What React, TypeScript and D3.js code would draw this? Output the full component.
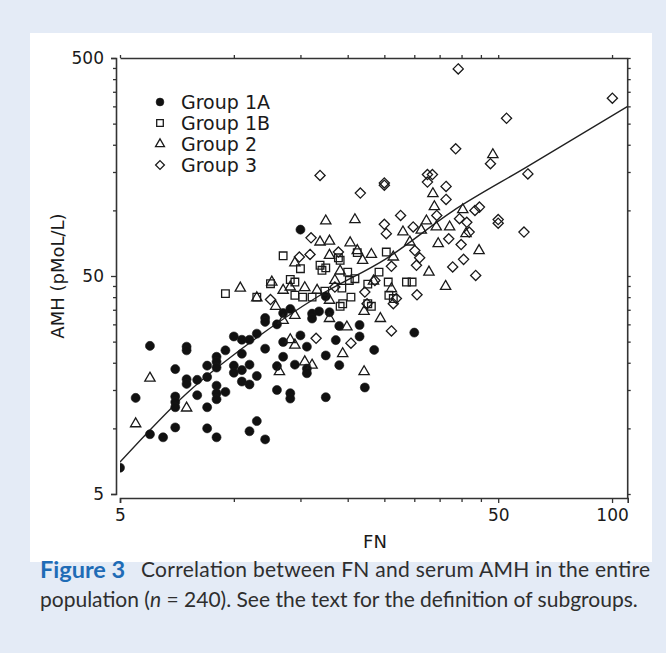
import React, { useEffect, useRef } from 'react';
import * as d3 from 'd3';

// group labels for the legend
const groupNames = ['Group 1A', 'Group 1B', 'Group 2', 'Group 3'];

// Group 1A (filled circles)
const fn1A = [5.0, 5.5, 6.0, 6.0, 6.5, 7.0, 7.0, 7.0, 7.0, 7.0, 7.5, 7.5, 7.5, 7.5, 8.0, 8.0, 8.5, 8.5, 8.5, 8.5,
  9.0, 9.0, 9.0, 9.0, 9.0, 9.0, 9.0, 9.5, 9.5, 10.0, 10.0, 10.0, 10.5, 10.5, 10.5, 10.5, 11.0, 11.0, 11.0, 11.0,
  11.5, 11.5, 11.5, 12.1, 12.1, 12.1, 12.1, 13.0, 13.0, 13.0, 13.5, 13.5, 13.5, 14.1, 14.1, 14.1, 14.5, 15.0, 15.0, 15.6,
  15.6, 15.6, 16.1, 16.1, 16.8, 17.5, 17.5, 17.5, 17.9, 18.6, 19.0, 19.0, 21.5, 21.5, 22.2, 23.5, 30.0];
const amh1A = [6.6, 13.8, 23.9, 9.4, 9.1, 18.7, 14.0, 13.2, 12.5, 10.1, 23.7, 22.8, 16.8, 16.0, 16.7, 14.2, 19.4, 17.2, 12.5, 10.0,
  21.3, 20.2, 19.0, 15.7, 14.5, 13.6, 9.1, 22.8, 14.7, 26.4, 19.4, 18.0, 25.5, 22.0, 18.5, 16.4, 25.5, 19.6, 15.9, 9.7,
  27.2, 17.4, 10.8, 32.1, 30.8, 23.2, 8.9, 30.0, 19.3, 15.0, 33.8, 24.9, 21.3, 35.3, 14.5, 13.7, 19.6, 81.6, 26.7, 23.7,
  18.8, 17.9, 33.6, 31.9, 34.4, 40.3, 21.6, 13.9, 34.1, 25.4, 29.5, 19.5, 29.8, 26.4, 15.4, 22.9, 27.5];

// Group 1B (open squares)
const fn1B = [9.5, 11.5, 12.5, 13.5, 14.1, 14.5, 14.5, 15.0, 15.2, 16.1, 16.9, 17.1, 17.5, 18.9, 19.1, 19.1, 19.4, 20.0,
  20.2, 20.4, 20.9, 22.6, 22.6, 23.1, 24.2, 25.3, 25.6, 25.7, 26.4, 28.6, 29.6, 17.4, 19.3, 21.2];
const amh1B = [41.5, 40.0, 46.1, 61.9, 48.2, 46.9, 40.8, 54.0, 40.0, 40.0, 56.0, 53.1, 54.5, 60.6, 59.0, 36.3, 37.3, 52.1,
  47.7, 40.0, 48.6, 45.9, 37.3, 36.3, 52.1, 64.4, 46.9, 40.8, 39.4, 46.9, 46.9, 42.6, 44.0, 64.0];

// Group 2 (open triangles)
const fn2 = [5.5, 6.0, 7.5, 10.4, 11.5, 12.6, 12.9, 13.2, 13.5, 13.5, 14.1, 14.1, 14.5, 14.5, 14.5, 15.4, 15.4, 16.1, 16.6,
  16.9, 17.5, 17.9, 17.9, 17.9, 17.9, 18.5, 19.1, 19.4, 19.9, 20.3, 20.9, 21.2, 21.9, 22.1, 22.1, 23.1, 23.4, 24.4, 26.1,
  26.4, 28.0, 29.2, 31.3, 32.3, 32.8, 33.6, 33.9, 34.3, 34.7, 36.3, 37.2, 40.3, 41.1, 44.5, 48.4];
const amh2 = [10.5, 17.0, 12.4, 44.0, 39.7, 46.9, 36.3, 18.2, 43.0, 31.3, 44.5, 25.5, 57.4, 33.0, 24.1, 44.2, 20.2, 19.5, 43.0,
  71.6, 89.4, 72.3, 62.2, 38.7, 31.9, 47.7, 52.7, 22.0, 29.2, 71.0, 90.6, 65.4, 59.0, 34.4, 18.2, 62.8, 47.4, 31.9, 43.7,
  61.1, 79.6, 71.6, 81.2, 89.4, 52.1, 119.2, 104.0, 83.9, 70.3, 44.8, 83.9, 100.7, 78.2, 65.4, 180.0];

// Group 3 (open diamonds)
const fn3 = [12.5, 14.9, 15.9, 16.0, 16.5, 16.9, 18.5, 18.9, 20.4, 21.6, 22.2, 22.5, 23.6, 25.0, 25.0, 25.0, 25.3, 26.1,
  26.1, 26.4, 26.9, 27.6, 29.8, 30.1, 30.4, 30.5, 31.0, 32.5, 33.5, 32.5, 34.4, 36.4, 36.4, 37.0, 37.9, 38.6, 39.2, 39.5,
  39.9, 40.5, 41.3, 41.9, 43.4, 43.6, 44.6, 47.7, 50.0, 50.0, 52.6, 58.5, 59.9, 100.2];
const amh3 = [39.0, 61.1, 62.8, 74.8, 25.9, 144.6, 44.5, 64.4, 24.6, 120.0, 42.2, 37.3, 47.7, 86.3, 133.6, 130.4, 78.2, 55.4,
  28.0, 37.3, 39.4, 94.8, 83.9, 65.4, 56.0, 41.0, 60.6, 146.0, 146.0, 134.8, 94.8, 128.8, 112.3, 74.1, 55.0, 191.7, 445.6, 91.6,
  69.7, 59.6, 88.2, 79.5, 99.9, 50.3, 103.5, 163.7, 90.7, 87.3, 264.6, 79.5, 147.0, 327.0];

// regression line
const fitFN = [5, 7.5, 11.25, 16.9, 25.3, 37.9, 59.4, 110];
const fitAMH = [7.0, 14.45, 25.35, 40.8, 60.1, 99.3, 157.9, 300];

// axis ticks
const xTicks = [5, 10, 15, 20, 25, 30, 35, 40, 45, 50, 100];
const yTicks = [5, 10, 15, 20, 25, 30, 35, 40, 45, 50, 100, 150, 200, 250, 300, 350, 400, 450, 500];
const xLabels = [5, 50, 100];
const yLabels = [5, 50, 500];

const W = 666;
const H = 653;

const App = () => {
  const ref = useRef<SVGSVGElement>(null);

  useEffect(() => {
    document.body.style.margin = '0';
    const svg = d3.select(ref.current);
    svg.selectAll('*').remove();

    const font = 'DejaVu Sans, sans-serif';
    const axisColor = '#333';

    // BACKGROUND
    svg.append('rect').attr('width', W).attr('height', H).attr('fill', '#e4ebf6');
    svg.append('rect')
      .attr('x', 30).attr('y', 33)
      .attr('width', 622).attr('height', 529)
      .attr('fill', '#ffffff');

    // SCALES
    const x = d3.scaleLog().domain([5, 110]).range([120, 627.7]);
    const y = d3.scaleLog().domain([5, 500]).range([494, 58]);

    const plotLeft = 120;
    const plotRight = 627.7;
    const plotTop = 58;
    const plotBottom = 498;

    svg.append('clipPath').attr('id', 'plotclip')
      .append('rect')
      .attr('x', plotLeft).attr('y', plotTop)
      .attr('width', plotRight - plotLeft).attr('height', plotBottom - plotTop);

    // AXES
    const styleAxis = (g, labels, major, minor, dir) => {
      g.select('.domain').attr('stroke', axisColor).attr('stroke-width', 1.6);
      g.selectAll('.tick line')
        .attr('stroke', axisColor)
        .attr('stroke-width', 1.3)
        .each(function (d) {
          const len = labels.includes(d) ? major : minor;
          const sel = d3.select(this);
          if (dir === 'left') sel.attr('x2', -len);
          if (dir === 'right') sel.attr('x2', len);
          if (dir === 'bottom') sel.attr('y2', len);
          if (dir === 'top') sel.attr('y2', -len);
        });
      g.selectAll('.tick text')
        .attr('font-family', font)
        .attr('font-size', 17)
        .attr('fill', '#1a1a1a');
    };

    const leftAxis = svg.append('g')
      .attr('transform', 'translate(116, 0)')
      .call(d3.axisLeft(y)
        .tickValues(yTicks)
        .tickSizeOuter(0)
        .tickSize(5)
        .tickPadding(7)
        .tickFormat(d => (yLabels.includes(d) ? String(d) : '')));
    styleAxis(leftAxis, yLabels, 5, 3, 'left');

    const bottomAxis = svg.append('g')
      .attr('transform', `translate(0, ${plotBottom})`)
      .call(d3.axisBottom(x)
        .tickValues(xTicks)
        .tickSizeOuter(0)
        .tickSize(5)
        .tickPadding(6)
        .tickFormat(d => (xLabels.includes(d) ? String(d) : '')));
    styleAxis(bottomAxis, xLabels, 5, 4, 'bottom');

    const topAxis = svg.append('g')
      .attr('transform', `translate(0, ${plotTop})`)
      .call(d3.axisTop(x).tickValues(xTicks).tickSizeOuter(0).tickFormat(() => ''));
    styleAxis(topAxis, [], 3, 3, 'top');

    const rightAxis = svg.append('g')
      .attr('transform', `translate(${plotRight}, 0)`)
      .call(d3.axisRight(y).tickValues(yTicks).tickSizeOuter(0).tickFormat(() => ''));
    styleAxis(rightAxis, [], 3, 3, 'right');
    rightAxis.select('.domain').remove();
    svg.append('line')
      .attr('x1', plotRight).attr('x2', plotRight)
      .attr('y1', plotTop).attr('y2', plotBottom)
      .attr('stroke', axisColor).attr('stroke-width', 1.6);

    // AXIS TITLES
    svg.append('text')
      .attr('x', 375).attr('y', 548)
      .attr('text-anchor', 'middle')
      .attr('font-family', font).attr('font-size', 18).attr('fill', '#1a1a1a')
      .text('FN');

    svg.append('text')
      .attr('transform', 'translate(64, 276) rotate(-90)')
      .attr('text-anchor', 'middle')
      .attr('font-family', font).attr('font-size', 18).attr('fill', '#1a1a1a')
      .text('AMH (pMoL/L)');

    // FIT LINE
    const plot = svg.append('g').attr('clip-path', 'url(#plotclip)');
    const line = d3.line<number>()
      .x(i => x(fitFN[i]))
      .y(i => y(fitAMH[i]))
      .curve(d3.curveMonotoneX);
    plot.append('path')
      .attr('d', line(d3.range(fitFN.length)))
      .attr('fill', 'none')
      .attr('stroke', '#222')
      .attr('stroke-width', 1.4);

    // POINTS
    const groups = [
      { fn: fn1A, amh: amh1A, type: d3.symbolCircle, size: 64, filled: true },
      { fn: fn1B, amh: amh1B, type: d3.symbolSquare, size: 58, filled: false },
      { fn: fn2, amh: amh2, type: d3.symbolTriangle, size: 46, filled: false },
      { fn: fn3, amh: amh3, type: d3.symbolDiamond2, size: 66, filled: false },
    ];

    groups.forEach(grp => {
      const sym = d3.symbol().type(grp.type).size(grp.size);
      plot.append('g')
        .selectAll('path')
        .data(d3.range(grp.fn.length))
        .enter()
        .append('path')
        .attr('transform', i => `translate(${x(grp.fn[i])}, ${y(grp.amh[i])})`)
        .attr('d', sym())
        .attr('fill', grp.filled ? '#111' : 'none')
        .attr('stroke', '#1a1a1a')
        .attr('stroke-width', grp.filled ? 0.6 : 1.3);
    });

    // LEGEND
    const legend = svg.append('g').attr('transform', 'translate(160, 102)');
    groups.forEach((grp, i) => {
      const row = legend.append('g').attr('transform', `translate(0, ${i * 21})`);
      row.append('path')
        .attr('d', d3.symbol().type(grp.type).size(grp.size * 0.75)())
        .attr('fill', grp.filled ? '#111' : 'none')
        .attr('stroke', '#1a1a1a')
        .attr('stroke-width', grp.filled ? 0.6 : 1.3);
      row.append('text')
        .attr('x', 21).attr('y', 7)
        .attr('font-family', font).attr('font-size', 19).attr('fill', '#1a1a1a')
        .text(groupNames[i]);
    });

    // CAPTION
    const capFont = 'Lato, Open Sans, sans-serif';
    svg.append('text')
      .attr('x', 40).attr('y', 578)
      .attr('font-family', capFont).attr('font-size', 23.5).attr('font-weight', 'bold')
      .attr('fill', '#1f6cb6')
      .text('Figure 3');
    svg.append('text')
      .attr('x', 141).attr('y', 577)
      .attr('font-family', capFont).attr('font-size', 21).attr('fill', '#2e2e2e')
      .attr('textLength', 509).attr('lengthAdjust', 'spacing')
      .text('Correlation between FN and serum AMH in the entire');
    const cap2 = svg.append('text')
      .attr('x', 40).attr('y', 607)
      .attr('font-family', capFont).attr('font-size', 21).attr('fill', '#2e2e2e');
    cap2.append('tspan').text('population (');
    cap2.append('tspan').attr('font-style', 'italic').text('n');
    cap2.append('tspan').text(' = 240). See the text for the definition of subgroups.');
  });

  return <svg ref={ref} width={W} height={H} style={{ display: 'block' }} />;
};

export default App;
